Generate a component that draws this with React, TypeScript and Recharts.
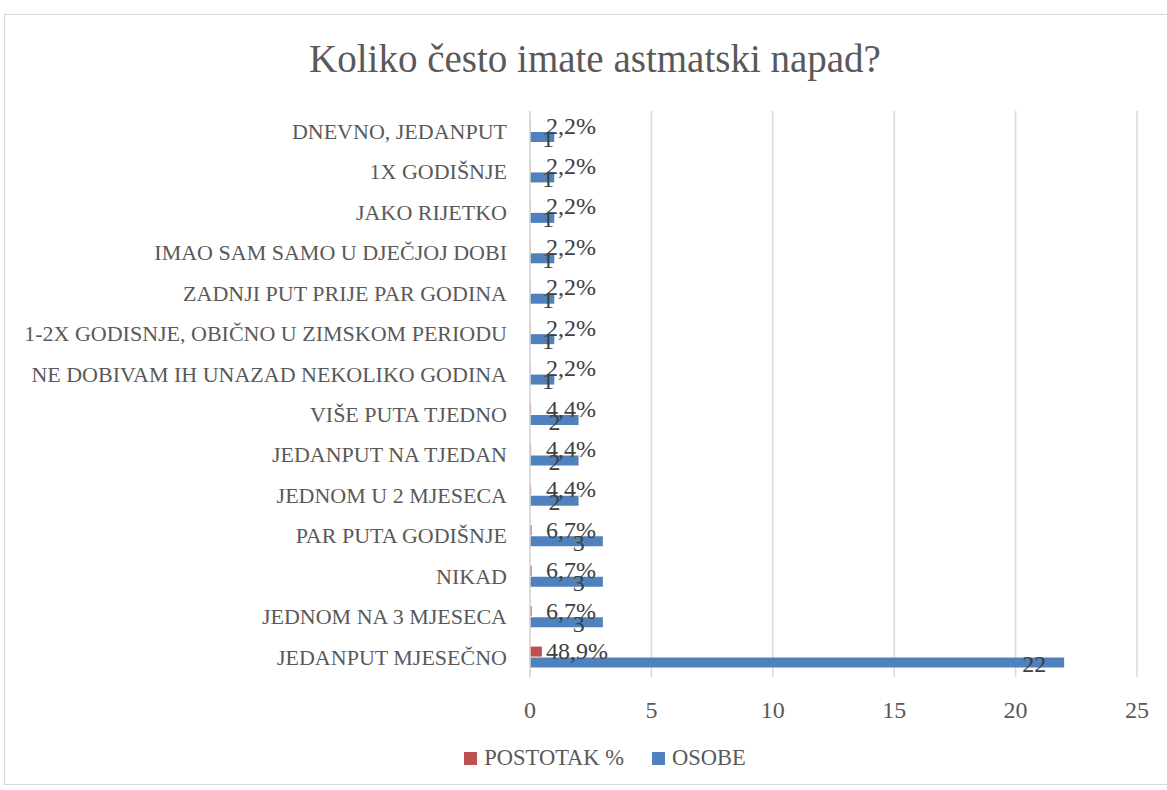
import { BarChart, Bar, XAxis, YAxis, CartesianGrid } from 'recharts';

const categories = [
  'DNEVNO, JEDANPUT',
  '1X GODIŠNJE',
  'JAKO RIJETKO',
  'IMAO SAM SAMO U DJEČJOJ DOBI',
  'ZADNJI PUT PRIJE PAR GODINA',
  '1-2X GODISNJE, OBIČNO U ZIMSKOM PERIODU',
  'NE DOBIVAM IH UNAZAD NEKOLIKO GODINA',
  'VIŠE PUTA TJEDNO',
  'JEDANPUT NA TJEDAN',
  'JEDNOM U 2 MJESECA',
  'PAR PUTA GODIŠNJE',
  'NIKAD',
  'JEDNOM NA 3 MJESECA',
  'JEDANPUT MJESEČNO',
];
const osobe = [1, 1, 1, 1, 1, 1, 1, 2, 2, 2, 3, 3, 3, 22];
const postotak = [0.022, 0.022, 0.022, 0.022, 0.022, 0.022, 0.022, 0.044, 0.044, 0.044, 0.067, 0.067, 0.067, 0.489];
const xTicks = [0, 5, 10, 15, 20, 25];
const series = [
  { key: 'postotak', name: 'POSTOTAK %', color: '#c0504d' },
  { key: 'osobe', name: 'OSOBE', color: '#4f81bd' },
];

const data = categories.map((name, i) => ({ name, osobe: osobe[i], postotak: postotak[i] }));

const FONT = '"Liberation Serif", "DejaVu Serif", serif';

const pctLabel = (props: any) => {
  const { x, y, width, height, value } = props;
  const end = x + width;
  const tx = Math.max(end + 4, x + 16);
  return (
    <text x={tx} y={y + height / 2 + 2} fill="#404040" fontSize={24} fontFamily={FONT} dominantBaseline="middle">
      {(value * 100).toFixed(1).replace('.', ',') + '%'}
    </text>
  );
};

const countLabel = (props: any) => {
  const { x, y, width, height, value } = props;
  const end = x + width;
  const tx = Math.max(end - 18, x + 24);
  return (
    <text x={tx} y={y + height / 2 + 4} fill="#404040" fontSize={24} fontFamily={FONT} textAnchor="end" dominantBaseline="middle">
      {value}
    </text>
  );
};

export default function App() {
  return (
    <div style={{ position: 'absolute', left: 0, top: 0, width: 1167, height: 790, background: '#fff', overflow: 'hidden', fontFamily: FONT }}>
      <div style={{ position: 'absolute', left: 4, top: 14, width: 1200, height: 771, border: '1px solid #d9d9d9', boxSizing: 'border-box' }} />
      <div style={{ position: 'absolute', left: 0, width: 1190, top: 36, textAlign: 'center', fontSize: 39, color: '#595959', lineHeight: '46px' }}>
        Koliko često imate astmatski napad?
      </div>
      <div style={{ position: 'absolute', left: 0, top: 0 }}>
        <BarChart
          width={1167}
          height={790}
          data={data}
          layout="vertical"
          margin={{ top: 111, right: 30, bottom: 63, left: 0 }}
          barSize={10}
          barGap={1}
        >
          <CartesianGrid horizontal={false} stroke="#d9d9d9" strokeWidth={1.5} />
          <XAxis
            type="number"
            domain={[0, 25]}
            ticks={xTicks}
            axisLine={false}
            tickLine={false}
            tick={{ fill: '#595959', fontSize: 24, fontFamily: FONT }}
            tickMargin={18}
            height={50}
          />
          <YAxis
            type="category"
            dataKey="name"
            width={530}
            axisLine={{ stroke: '#d9d9d9', strokeWidth: 1.5 }}
            tickLine={false}
            tick={{ fill: '#595959', fontSize: 22, fontFamily: FONT }}
            tickMargin={17}
            interval={0}
          />
          {series.map((s) => (
            <Bar
              key={s.key}
              dataKey={s.key}
              name={s.name}
              fill={s.color}
              isAnimationActive={false}
              label={s.key === 'postotak' ? pctLabel : countLabel}
            />
          ))}
        </BarChart>
      </div>
      <div style={{ position: 'absolute', left: 10, width: 1190, top: 745, display: 'flex', justifyContent: 'center', gap: 28, fontSize: 22.5, color: '#595959' }}>
        {series.map((s) => (
          <div key={s.key} style={{ display: 'flex', alignItems: 'center', gap: 7 }}>
            <span style={{ display: 'inline-block', width: 13, height: 13, background: s.color }} />
            <span>{s.name}</span>
          </div>
        ))}
      </div>
    </div>
  );
}
